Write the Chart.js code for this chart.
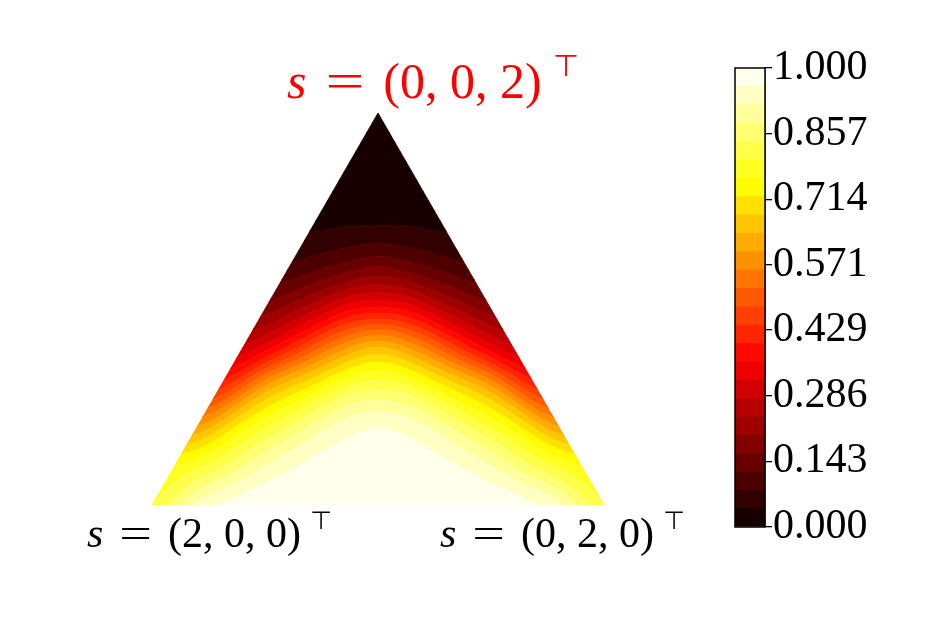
<!DOCTYPE html>
<html>
<head>
<meta charset="utf-8">
<script src="https://cdn.jsdelivr.net/npm/chart.js@4.4.1/dist/chart.umd.min.js"></script>
<style>
  html, body { margin: 0; padding: 0; background: #fff; }
  #wrap { position: relative; width: 934px; height: 623px; }
  #wrap canvas { position: absolute; left: 0; top: 0; }
</style>
</head>
<body>
<div id="wrap">
  <canvas id="triArea" width="934" height="623"></canvas>
  <canvas id="barArea" width="934" height="623"></canvas>
</div>
<script>
// field values, triangular lattice, bottom row first, left -> right
const row0  = [0.80, 0.93, 0.98, 0.99, 0.993, 0.995, 0.993, 0.99, 0.98, 0.93, 0.80];
const row1  = [0.76, 0.83, 0.92, 0.97, 0.982, 0.982, 0.97, 0.92, 0.83, 0.76];
const row2  = [0.60, 0.74, 0.84, 0.925, 0.958, 0.925, 0.84, 0.74, 0.60];
const row3  = [0.43, 0.61, 0.725, 0.82, 0.82, 0.725, 0.61, 0.43];
const row4  = [0.29, 0.41, 0.56, 0.647, 0.56, 0.41, 0.29];
const row5  = [0.18, 0.26, 0.36, 0.36, 0.26, 0.18];
const row6  = [0.093, 0.134, 0.172, 0.134, 0.093];
const row7  = [0.038, 0.047, 0.047, 0.038];
const row8  = [0.015, 0.016, 0.015];
const row9  = [0.005, 0.005];
const row10 = [0.0];
const rows = [row0, row1, row2, row3, row4, row5, row6, row7, row8, row9, row10];

// contour levels and colorbar ticks
const levels = [0, 0.04, 0.08, 0.12, 0.16, 0.2, 0.24, 0.28, 0.32, 0.36, 0.4, 0.44, 0.48,
                0.52, 0.56, 0.6, 0.64, 0.68, 0.72, 0.76, 0.8, 0.84, 0.88, 0.92, 0.96, 1];
const cbTicks = [0, 0.143, 0.286, 0.429, 0.571, 0.714, 0.857, 1];
const cornerNames = ["(2, 0, 0)", "(0, 2, 0)", "(0, 0, 2)"];

// matplotlib "hot"
function hot(v) {
  const r = v < 0.365079 ? 0.0416 + v * (1 - 0.0416) / 0.365079 : 1;
  const g = v < 0.365079 ? 0 : (v < 0.746032 ? (v - 0.365079) / (0.746032 - 0.365079) : 1);
  const b = v < 0.746032 ? 0 : (v - 0.746032) / (1 - 0.746032);
  return `rgb(${Math.round(r * 255)},${Math.round(g * 255)},${Math.round(b * 255)})`;
}
const bandColors = levels.slice(0, -1).map((lo, i) => hot((lo + levels[i + 1]) / 2));

const N = rows.length - 1;
const H = Math.sqrt(3) / 2;
const points = [];
rows.forEach((r, k) => r.forEach((v, j) => points.push({ x: j / N + k / (2 * N), y: k / N * H, v: v })));

// smooth (catmull-rom) reading of the lattice, like a refined tricontourf mesh
const cr = (p0, p1, p2, p3, s) =>
  0.5 * (2 * p1 + (p2 - p0) * s + (2 * p0 - 5 * p1 + 4 * p2 - p3) * s * s + (3 * p1 - p0 - 3 * p2 + p3) * s * s * s);
function rowAt(k, u) {
  const r = rows[k], n = r.length - 1;
  if (n === 0) return r[0];
  const f = u * n, i = Math.min(Math.max(Math.floor(f), 0), n - 1), s = f - i;
  return cr(r[Math.max(i - 1, 0)], r[i], r[i + 1], r[Math.min(i + 2, n)], s);
}
function field(t, u) {
  const f = t * N, i = Math.min(Math.max(Math.floor(f), 0), N - 1), s = f - i;
  const at = k => rowAt(Math.min(Math.max(k, 0), N), u);
  return Math.min(Math.max(cr(at(i - 1), at(i), at(i + 1), at(i + 2), s), 0), 1);
}

function clipPoly(poly, level, above) {
  const out = [];
  for (let i = 0; i < poly.length; i++) {
    const a = poly[i], b = poly[(i + 1) % poly.length];
    const fa = above ? a.v - level : level - a.v;
    const fb = above ? b.v - level : level - b.v;
    if (fa >= 0) out.push(a);
    if ((fa >= 0) !== (fb >= 0)) {
      const s = fa / (fa - fb);
      out.push({ x: a.x + s * (b.x - a.x), y: a.y + s * (b.y - a.y), v: a.v + s * (b.v - a.v) });
    }
  }
  return out;
}

const contourFill = {
  id: "contourFill",
  beforeDatasetsDraw(chart) {
    const ctx = chart.ctx, xs = chart.scales.x, ys = chart.scales.y;
    const M = 40;
    const mesh = [];
    for (let k = 0; k <= M; k++) {
      const n = M - k, line = [];
      for (let j = 0; j <= n; j++) {
        const t = k / M, u = n > 0 ? j / n : 0.5;
        line.push({ x: xs.getPixelForValue(j / M + k / (2 * M)), y: ys.getPixelForValue(t * H), v: field(t, u) });
      }
      mesh.push(line);
    }
    const tris = [];
    for (let k = 0; k < M; k++) {
      const n = M - k;
      for (let j = 0; j < n; j++) {
        tris.push([mesh[k][j], mesh[k][j + 1], mesh[k + 1][j]]);
        if (j < n - 1) tris.push([mesh[k][j + 1], mesh[k + 1][j + 1], mesh[k + 1][j]]);
      }
    }
    ctx.save();
    ctx.lineWidth = 0.8;
    ctx.lineJoin = "round";
    bandColors.forEach((c, i) => {
      ctx.beginPath();
      let any = false;
      tris.forEach(tri => {
        let poly = clipPoly(tri, levels[i], true);
        if (poly.length < 3) return;
        poly = clipPoly(poly, levels[i + 1], false);
        if (poly.length < 3) return;
        ctx.moveTo(poly[0].x, poly[0].y);
        for (let m = 1; m < poly.length; m++) ctx.lineTo(poly[m].x, poly[m].y);
        ctx.closePath();
        any = true;
      });
      if (!any) return;
      ctx.fillStyle = c;
      ctx.strokeStyle = c;
      ctx.fill();
      ctx.stroke();
    });
    ctx.restore();
  },
  afterDraw(chart) {
    const ctx = chart.ctx, xs = chart.scales.x, ys = chart.scales.y;
    const drawLabel = (x, base, tuple, size, color) => {
      ctx.fillStyle = color;
      ctx.textBaseline = "alphabetic";
      ctx.textAlign = "left";
      ctx.font = `italic ${size}px "Liberation Serif"`;
      ctx.fillText("s", x, base);
      x += ctx.measureText("s").width + 0.38 * size;
      // a wide, thin equals sign like the TeX one
      ctx.font = `${size}px "Liberation Serif"`;
      const eq = ctx.measureText("=").width * 1.38;
      ctx.save();
      ctx.translate(x, base);
      ctx.scale(1.38, 1);
      ctx.fillText("=", 0, 0);
      ctx.restore();
      x += eq + 0.38 * size;
      ctx.fillText(tuple, x, base);
      x += ctx.measureText(tuple).width + 0.22 * size;
      ctx.font = `${Math.round(size * 0.6)}px "DejaVu Sans"`;
      ctx.fillText("\u22A4", x, base - 0.44 * size);
    };
    ctx.save();
    drawLabel(xs.getPixelForValue(0) - 65, ys.getPixelForValue(0) + 42, cornerNames[0], 42, "#000");
    drawLabel(xs.getPixelForValue(1) - 164, ys.getPixelForValue(0) + 42, cornerNames[1], 42, "#000");
    drawLabel(xs.getPixelForValue(0.5) - 91, ys.getPixelForValue(H) - 15, cornerNames[2], 50, "#ff0000");
    ctx.restore();
  }
};

new Chart(document.getElementById("triArea"), {
  type: "scatter",
  data: { datasets: [{ data: points, pointRadius: 0, showLine: false }] },
  options: {
    responsive: false,
    animation: false,
    devicePixelRatio: 1,
    events: [],
    layout: { padding: { left: 152, right: 330, top: 113, bottom: 118 } },
    plugins: { legend: { display: false }, tooltip: { enabled: false } },
    scales: {
      x: { type: "linear", min: 0, max: 1, display: false },
      y: { type: "linear", min: 0, max: H, display: false }
    }
  },
  plugins: [contourFill]
});

// colorbar
const outline = {
  id: "outline",
  afterDraw(chart) {
    const a = chart.chartArea, ctx = chart.ctx;
    ctx.save();
    ctx.strokeStyle = "#000";
    ctx.lineWidth = 1.5;
    ctx.strokeRect(a.left, a.top, a.right - a.left, a.bottom - a.top);
    ctx.restore();
  }
};

new Chart(document.getElementById("barArea"), {
  type: "bar",
  data: {
    labels: [""],
    datasets: bandColors.map((c, i) => ({
      data: [[levels[i], levels[i + 1]]],
      backgroundColor: c,
      borderWidth: 0,
      barPercentage: 1,
      categoryPercentage: 1
    }))
  },
  options: {
    responsive: false,
    animation: false,
    devicePixelRatio: 1,
    events: [],
    layout: { padding: { left: 735, right: 64, top: 68, bottom: 96 } },
    plugins: { legend: { display: false }, tooltip: { enabled: false } },
    scales: {
      x: { display: false, stacked: true },
      y: {
        position: "right",
        min: 0,
        max: 1,
        afterBuildTicks: s => { s.ticks = cbTicks.map(v => ({ value: v })); },
        afterFit: s => { s.width = 105; },
        grid: { drawOnChartArea: false, drawTicks: true, tickLength: 7, color: "#000", lineWidth: 1.3 },
        border: { display: true, color: "#000", width: 1.5 },
        ticks: {
          autoSkip: false,
          padding: 1,
          color: "#000",
          font: { family: '"Liberation Serif"', size: 42 },
          callback: v => v.toFixed(3)
        }
      }
    }
  },
  plugins: [outline]
});
</script>
</body>
</html>
